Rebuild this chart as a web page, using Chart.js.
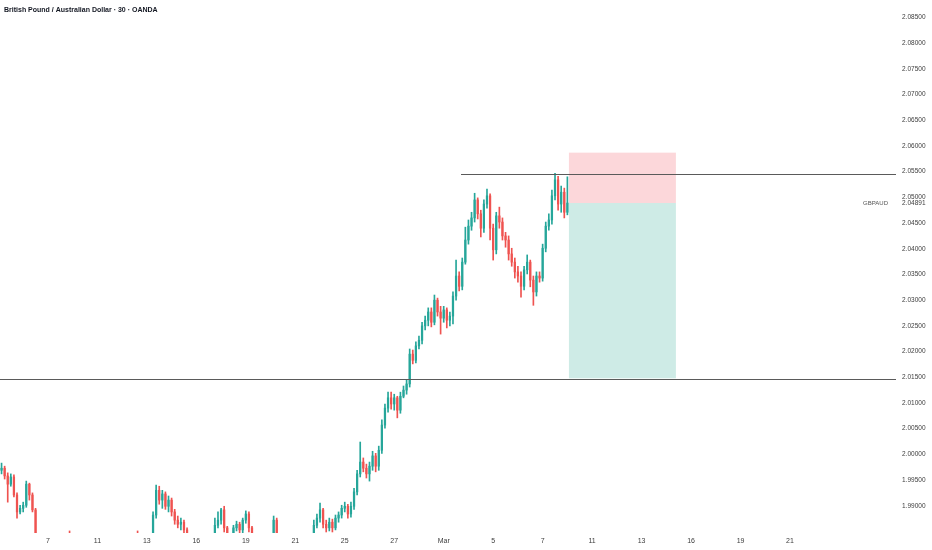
<!DOCTYPE html>
<html>
<head>
<meta charset="utf-8">
<script src="https://cdn.jsdelivr.net/npm/chart.js@4/dist/chart.umd.min.js"></script>
<style>
html,body{margin:0;padding:0;background:#fff;}
#wrap{width:932px;height:550px;position:relative;}
</style>
</head>
<body>
<div id="wrap"><canvas id="c" width="932" height="550"></canvas></div>
<script>
const chartTitle = 'British Pound / Australian Dollar \u00b7 30 \u00b7 OANDA';
const symbolName = 'GBPAUD';
const lastPrice = 2.04891;

const opens = [1.9969,1.9973,1.9958,1.9942,1.9956,1.9921,1.9888,1.9895,1.9901,1.9942,1.9921,1.9892,1.9823,1.9808,1.9815,1.9802,1.9790,1.9798,1.9785,1.9779,
1.9792,1.9804,1.9818,1.9812,1.9800,1.9788,1.9776,1.9770,1.9762,1.9771,1.9765,1.9756,1.9748,1.9755,1.9763,1.9758,1.9770,1.9781,1.9775,1.9788,
1.9797,1.9790,1.9803,1.9814,1.9826,1.9820,1.9808,1.9799,1.9794,1.9823,1.9882,1.9930,1.9911,1.9923,1.9899,1.9911,1.9888,1.9872,1.9864,1.9868,
1.9853,1.9814,1.9805,1.9796,1.9804,1.9793,1.9800,1.9809,1.9815,1.9823,1.9862,1.9872,1.9892,1.9857,1.9823,1.9815,1.9857,1.9864,1.9853,1.9872,
1.9884,1.9857,1.9818,1.9810,1.9800,1.9807,1.9799,1.9810,1.9822,1.9872,1.9823,1.9812,1.9803,1.9795,1.9787,1.9794,1.9786,1.9795,1.9804,1.9798,
1.9809,1.9814,1.9862,1.9876,1.9892,1.9864,1.9857,1.9868,1.9857,1.9876,1.9882,1.9895,1.9899,1.9884,1.9899,1.9927,1.9962,1.9985,1.9973,1.9962,
1.9977,1.9997,1.9977,2.0008,2.0057,2.0090,2.0110,2.0098,2.0110,2.0086,2.0113,2.0125,2.0137,2.0195,2.0183,2.0211,2.0222,2.0250,2.0261,2.0277,
2.0257,2.0300,2.0277,2.0265,2.0281,2.0261,2.0269,2.0308,2.0347,2.0327,2.0374,2.0417,2.0444,2.0460,2.0495,2.0468,2.0440,2.0487,2.0503,2.0440,
2.0398,2.0464,2.0452,2.0425,2.0417,2.0390,2.0374,2.0355,2.0347,2.0327,2.0359,2.0374,2.0339,2.0316,2.0347,2.0343,2.0401,2.0444,2.0456,2.0503,
2.0534,2.0487,2.0510,2.0471];

const highs = [1.9983,1.9977,1.9964,1.9962,1.9960,1.9925,1.9901,1.9907,1.9948,1.9944,1.9925,1.9895,1.9830,1.9822,1.9819,1.9808,1.9803,1.9801,1.9790,1.9796,
1.9810,1.9822,1.9851,1.9816,1.9805,1.9791,1.9782,1.9775,1.9776,1.9777,1.9769,1.9760,1.9759,1.9768,1.9767,1.9774,1.9786,1.9785,1.9793,1.9803,
1.9801,1.9808,1.9820,1.9831,1.9851,1.9823,1.9812,1.9803,1.9833,1.9888,1.9940,1.9938,1.9930,1.9927,1.9919,1.9915,1.9893,1.9880,1.9876,1.9872,
1.9857,1.9820,1.9809,1.9810,1.9807,1.9806,1.9814,1.9821,1.9833,1.9876,1.9888,1.9895,1.9899,1.9860,1.9828,1.9862,1.9870,1.9868,1.9876,1.9890,
1.9888,1.9860,1.9824,1.9814,1.9812,1.9811,1.9815,1.9833,1.9880,1.9876,1.9828,1.9816,1.9808,1.9799,1.9799,1.9798,1.9800,1.9809,1.9808,1.9814,
1.9823,1.9872,1.9884,1.9905,1.9895,1.9872,1.9876,1.9874,1.9882,1.9888,1.9901,1.9907,1.9903,1.9907,1.9934,1.9969,2.0024,1.9993,1.9981,1.9985,
2.0006,2.0002,2.0016,2.0067,2.0098,2.0121,2.0121,2.0117,2.0113,2.0121,2.0133,2.0145,2.0205,2.0203,2.0219,2.0230,2.0257,2.0269,2.0285,2.0285,
2.0310,2.0304,2.0288,2.0288,2.0285,2.0277,2.0316,2.0378,2.0355,2.0382,2.0442,2.0456,2.0471,2.0508,2.0499,2.0475,2.0495,2.0516,2.0507,2.0448,
2.0471,2.0481,2.0460,2.0432,2.0425,2.0401,2.0382,2.0366,2.0355,2.0366,2.0388,2.0378,2.0347,2.0355,2.0355,2.0409,2.0452,2.0468,2.0514,2.0547,
2.0541,2.0522,2.0518,2.0540];

const lows = [1.9962,1.9952,1.9907,1.9938,1.9917,1.9876,1.9884,1.9888,1.9897,1.9911,1.9888,1.9794,1.9800,1.9801,1.9795,1.9784,1.9785,1.9779,1.9772,1.9775,
1.9788,1.9800,1.9805,1.9795,1.9782,1.9770,1.9764,1.9757,1.9758,1.9760,1.9750,1.9742,1.9744,1.9751,1.9752,1.9754,1.9766,1.9769,1.9772,1.9783,
1.9785,1.9786,1.9799,1.9810,1.9815,1.9802,1.9793,1.9788,1.9786,1.9818,1.9876,1.9903,1.9895,1.9893,1.9888,1.9880,1.9864,1.9857,1.9853,1.9841,
1.9794,1.9798,1.9790,1.9792,1.9787,1.9789,1.9796,1.9805,1.9810,1.9818,1.9857,1.9864,1.9849,1.9804,1.9808,1.9810,1.9851,1.9843,1.9833,1.9866,
1.9849,1.9804,1.9803,1.9795,1.9796,1.9793,1.9795,1.9806,1.9816,1.9804,1.9806,1.9797,1.9790,1.9781,1.9783,1.9780,1.9782,1.9791,1.9793,1.9794,
1.9804,1.9808,1.9857,1.9868,1.9857,1.9849,1.9851,1.9849,1.9853,1.9868,1.9876,1.9888,1.9876,1.9878,1.9893,1.9921,1.9956,1.9966,1.9954,1.9948,
1.9969,1.9966,1.9969,2.0002,2.0051,2.0082,2.0088,2.0086,2.0071,2.0080,2.0110,2.0117,2.0131,2.0176,2.0178,2.0205,2.0215,2.0242,2.0250,2.0248,
2.0252,2.0269,2.0234,2.0257,2.0246,2.0250,2.0254,2.0300,2.0318,2.0320,2.0370,2.0409,2.0436,2.0452,2.0458,2.0423,2.0432,2.0479,2.0417,2.0378,
2.0390,2.0440,2.0417,2.0403,2.0378,2.0366,2.0343,2.0335,2.0306,2.0320,2.0351,2.0326,2.0290,2.0308,2.0335,2.0337,2.0394,2.0436,2.0448,2.0495,
2.0475,2.0471,2.0460,2.0466];

const closes = [1.9973,1.9958,1.9942,1.9956,1.9921,1.9888,1.9895,1.9901,1.9942,1.9921,1.9892,1.9823,1.9808,1.9815,1.9802,1.9790,1.9798,1.9785,1.9779,1.9792,
1.9804,1.9818,1.9812,1.9800,1.9788,1.9776,1.9770,1.9762,1.9771,1.9765,1.9756,1.9748,1.9755,1.9763,1.9758,1.9770,1.9781,1.9775,1.9788,1.9797,
1.9790,1.9803,1.9814,1.9826,1.9820,1.9808,1.9799,1.9794,1.9823,1.9882,1.9930,1.9911,1.9923,1.9899,1.9911,1.9888,1.9872,1.9864,1.9868,1.9853,
1.9814,1.9805,1.9796,1.9804,1.9793,1.9800,1.9809,1.9815,1.9823,1.9862,1.9872,1.9892,1.9857,1.9823,1.9815,1.9857,1.9864,1.9853,1.9872,1.9884,
1.9857,1.9818,1.9810,1.9800,1.9807,1.9799,1.9810,1.9822,1.9872,1.9823,1.9812,1.9803,1.9795,1.9787,1.9794,1.9786,1.9795,1.9804,1.9798,1.9809,
1.9814,1.9862,1.9876,1.9892,1.9864,1.9857,1.9868,1.9857,1.9876,1.9882,1.9895,1.9899,1.9884,1.9899,1.9927,1.9962,1.9985,1.9973,1.9962,1.9977,
1.9997,1.9977,2.0008,2.0057,2.0090,2.0110,2.0098,2.0110,2.0086,2.0113,2.0125,2.0137,2.0195,2.0183,2.0211,2.0222,2.0250,2.0261,2.0277,2.0257,
2.0300,2.0277,2.0265,2.0281,2.0261,2.0269,2.0308,2.0347,2.0327,2.0374,2.0417,2.0444,2.0460,2.0495,2.0468,2.0440,2.0487,2.0503,2.0440,2.0398,
2.0464,2.0452,2.0425,2.0417,2.0390,2.0374,2.0355,2.0347,2.0327,2.0359,2.0374,2.0339,2.0316,2.0347,2.0343,2.0401,2.0444,2.0456,2.0503,2.0534,
2.0487,2.0510,2.0471,2.0489];

const xTickPositions = [16,32,48,64,80,96,112,128,144,160,176,192,208,224,240,256];
const xTickLabels = ['7','11','13','16','19','21','25','27','Mar','5','7','11','13','16','19','21'];
const yTickValues = [2.085,2.08,2.075,2.07,2.065,2.06,2.055,2.05,2.045,2.04,2.035,2.03,2.025,2.02,2.015,2.01,2.005,2.0,1.995,1.99];

const linePrices = [2.0545, 2.0147];
const lineStarts = [149.6, 0.5];

const positionStart = 184.5, positionEnd = 219.1;
const stopPrice = 2.0587, entryPrice = 2.0489, targetPrice = 2.0148;

const upColor = '#26a69a', downColor = '#ef5350';
const candleColors = opens.map((o, k) => closes[k] >= o ? upColor : downColor);
const FONT = '"Liberation Sans", Arial, sans-serif';

const overlay = {
  id: 'overlay',
  beforeDatasetsDraw(chart) {
    const {ctx, scales: {x, y}} = chart;
    const xl = x.getPixelForValue(positionStart), xr = x.getPixelForValue(positionEnd);
    const ys = y.getPixelForValue(stopPrice), ye = y.getPixelForValue(entryPrice), yt = y.getPixelForValue(targetPrice);
    ctx.save();
    ctx.fillStyle = 'rgba(242,54,69,0.2)';
    ctx.fillRect(xl, ys, xr - xl, ye - ys);
    ctx.fillStyle = 'rgba(8,153,129,0.2)';
    ctx.fillRect(xl, ye, xr - xl, yt - ye);
    ctx.restore();
  },
  afterDatasetsDraw(chart) {
    const {ctx, chartArea, scales: {x, y}} = chart;
    ctx.save();
    ctx.strokeStyle = '#5a5a5a';
    ctx.lineWidth = 1;
    linePrices.forEach((p, k) => {
      const py = Math.round(y.getPixelForValue(p)) + 0.5;
      ctx.beginPath();
      ctx.moveTo(x.getPixelForValue(lineStarts[k]), py);
      ctx.lineTo(chartArea.right, py);
      ctx.stroke();
    });
    ctx.restore();
  },
  afterDraw(chart) {
    const {ctx, chartArea, scales: {y}} = chart;
    ctx.save();
    ctx.fillStyle = '#131722';
    ctx.font = '600 7px ' + FONT;
    ctx.textBaseline = 'middle';
    ctx.textAlign = 'left';
    ctx.fillText(chartTitle, 4, 10);
    const py = y.getPixelForValue(lastPrice);
    ctx.fillStyle = '#ffffff';
    ctx.fillRect(chartArea.right + 1, py - 4, chart.width - chartArea.right - 1, 9);
    ctx.fillStyle = '#3c3c3c';
    ctx.font = '6.5px ' + FONT;
    ctx.fillText(lastPrice.toFixed(5), chartArea.right + 6, py);
    ctx.textAlign = 'right';
    ctx.fillStyle = '#555555';
    ctx.font = '6px ' + FONT;
    ctx.fillText(symbolName, chartArea.right - 8, py);
    ctx.restore();
  }
};

new Chart(document.getElementById('c'), {
  type: 'bar',
  data: {
    datasets: [
      {
        label: 'wick',
        data: highs.map((h, k) => ({x: k + 1, y: [lows[k], h]})),
        backgroundColor: candleColors,
        barThickness: 1,
        grouped: false,
        order: 2,
        clip: 0
      },
      {
        label: 'body',
        data: opens.map((o, k) => ({x: k + 1, y: [o, closes[k]]})),
        backgroundColor: candleColors,
        barThickness: 1.6,
        minBarLength: 1,
        grouped: false,
        order: 1,
        clip: 0
      }
    ]
  },
  options: {
    responsive: false,
    animation: false,
    layout: {padding: 0},
    plugins: {legend: {display: false}, tooltip: {enabled: false}, title: {display: false}},
    scales: {
      x: {
        type: 'linear',
        min: 0.5,
        max: 290.28,
        offset: false,
        grid: {display: false, drawTicks: false},
        border: {display: false},
        afterBuildTicks: (s) => { s.ticks = xTickPositions.map(v => ({value: v})); },
        afterFit: (s) => { s.height = 17; s.paddingLeft = 0; s.paddingRight = 0; },
        ticks: {
          autoSkip: false,
          maxRotation: 0,
          padding: 4,
          color: '#3c3c3c',
          font: {size: 7, family: FONT},
          callback: (v) => { const k = xTickPositions.indexOf(v); return k >= 0 ? xTickLabels[k] : ''; }
        }
      },
      y: {
        position: 'right',
        min: 1.9847,
        max: 2.0884,
        grid: {display: false, drawTicks: false},
        border: {display: false},
        afterBuildTicks: (s) => { s.ticks = yTickValues.map(v => ({value: v})); },
        afterFit: (s) => { s.width = 36; s.paddingTop = 0; s.paddingBottom = 0; },
        ticks: {
          padding: 6,
          color: '#3c3c3c',
          font: {size: 6.5, family: FONT},
          callback: (v) => Number(v).toFixed(5)
        }
      }
    }
  },
  plugins: [overlay]
});
</script>
</body>
</html>
